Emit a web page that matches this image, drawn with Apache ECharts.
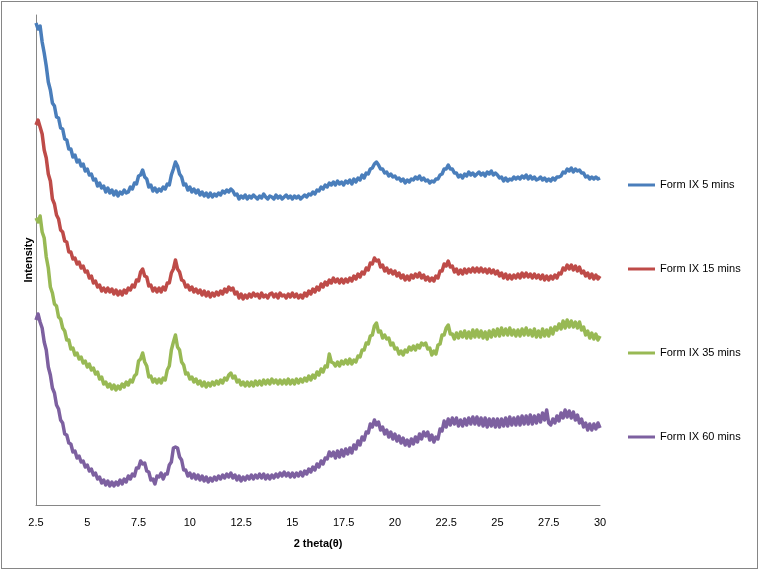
<!DOCTYPE html>
<html>
<head>
<meta charset="utf-8">
<script src="https://cdn.jsdelivr.net/npm/echarts@6/dist/echarts.min.js"></script>
<style>
  html, body { margin: 0; padding: 0; background: #fff; }
  #chart { width: 759px; height: 570px; position: relative; }
  #frame { position: absolute; left: 1px; top: 1px; width: 755px; height: 566px; border: 1px solid #868686; pointer-events: none; }
</style>
</head>
<body>
<div id="chart"></div>
<div id="frame"></div>
<script>
// 2θ sampling grid: 2.5 to 30.0 in steps of 0.1
const thetaStart = 2.5;
const thetaStep = 0.1;
const xTicks = [2.5, 5, 7.5, 10, 12.5, 15, 17.5, 20, 22.5, 25, 27.5, 30];
const seriesNames = ['Form IX 5 mins', 'Form IX 15 mins', 'Form IX 35 mins', 'Form IX 60 mins'];

// Intensity (offset, arbitrary units), one value per 0.1° 2θ
const form5 = [
  482, 476, 479, 463, 452,
  439, 423, 415, 402, 399, 388, 387, 377, 376, 366,
  365, 356, 356, 348, 350, 343, 345, 339, 341, 334,
  336, 330, 331, 325, 326, 319, 322, 317, 319, 313,
  317, 312, 315, 310, 314, 309, 313, 311, 315, 312,
  313, 318, 316, 322, 321, 329, 330, 335, 328, 326,
  318, 320, 314, 317, 313, 316, 314, 318, 316, 321,
  320, 330, 336, 343, 339, 331, 328, 320, 321, 315,
  318, 313, 316, 312, 315, 310, 313, 309, 312, 308,
  312, 308, 311, 309, 312, 310, 314, 312, 315, 313,
  316, 314, 310, 311, 306, 309, 307, 310, 306, 309,
  307, 310, 308, 306, 309, 307, 311, 308, 306, 309,
  308, 306, 310, 307, 309, 306, 308, 310, 307, 309,
  306, 309, 307, 309, 306, 308, 310, 308, 311, 310,
  313, 311, 315, 314, 318, 316, 320, 318, 322, 320,
  323, 320, 324, 321, 323, 320, 324, 322, 325, 321,
  326, 323, 327, 325, 330, 327, 332, 331, 336, 337,
  341, 343, 340, 336, 336, 332, 333, 329, 331, 328,
  329, 326, 327, 324, 326, 322, 325, 323, 326, 325,
  328, 326, 329, 325, 327, 324, 325, 322, 324, 323,
  326, 326, 330, 331, 336, 336, 340, 336, 336, 332,
  332, 328, 330, 327, 331, 329, 333, 330, 332, 329,
  331, 333, 330, 332, 329, 333, 331, 334, 330, 332,
  330, 327, 328, 324, 327, 324, 326, 325, 328, 326,
  328, 326, 329, 327, 330, 326, 329, 326, 328, 325,
  326, 328, 325, 327, 324, 326, 324, 327, 325, 328,
  328, 329, 333, 332, 336, 334, 337, 333, 336, 334,
  335, 332, 332, 328, 329, 326, 328, 326, 328, 326,
  327
];

const form15 = [
  380, 385, 378, 371, 355,
  347, 331, 324, 306, 301, 290, 286, 275, 273, 264,
  263, 253, 253, 246, 247, 241, 243, 237, 239, 233,
  234, 227, 229, 222, 224, 218, 220, 214, 217, 213,
  217, 213, 216, 211, 215, 210, 214, 210, 215, 212,
  217, 215, 220, 218, 225, 224, 233, 236, 229, 228,
  219, 220, 214, 217, 213, 217, 213, 218, 215, 222,
  222, 232, 236, 245, 236, 233, 225, 224, 218, 220,
  215, 218, 213, 216, 212, 215, 210, 214, 209, 213,
  208, 212, 209, 213, 210, 214, 211, 216, 213, 218,
  215, 217, 211, 213, 207, 211, 206, 210, 207, 211,
  208, 212, 209, 211, 207, 212, 208, 210, 207, 211,
  212, 208, 211, 207, 212, 209, 210, 207, 211, 208,
  212, 208, 211, 207, 210, 207, 212, 209, 214, 211,
  216, 213, 218, 215, 221, 218, 223, 220, 225, 222,
  227, 223, 226, 222, 226, 222, 226, 223, 227, 224,
  229, 226, 231, 228, 233, 231, 237, 235, 242, 241,
  247, 244, 245, 238, 240, 234, 237, 232, 235, 231,
  234, 229, 232, 227, 230, 225, 229, 225, 230, 227,
  231, 228, 232, 227, 230, 225, 228, 224, 227, 224,
  229, 227, 234, 234, 241, 239, 244, 238, 239, 233,
  236, 231, 235, 231, 236, 232, 236, 233, 237, 233,
  237, 233, 237, 233, 236, 232, 236, 232, 235, 231,
  234, 229, 232, 227, 231, 226, 230, 226, 230, 227,
  231, 227, 232, 228, 232, 228, 231, 227, 231, 227,
  230, 226, 230, 225, 229, 225, 229, 226, 230, 227,
  232, 231, 237, 235, 240, 236, 240, 235, 239, 234,
  238, 232, 234, 229, 232, 227, 231, 226, 230, 226,
  229
];

const form35 = [
  287, 283, 289, 273, 267,
  248, 237, 218, 212, 201, 199, 188, 186, 177, 174,
  165, 165, 156, 157, 150, 152, 146, 148, 142, 144,
  138, 141, 135, 137, 131, 133, 126, 128, 121, 123,
  118, 121, 116, 120, 115, 119, 116, 121, 118, 123,
  120, 125, 123, 129, 131, 144, 146, 152, 143, 139,
  128, 129, 123, 126, 122, 126, 122, 127, 125, 135,
  139, 155, 163, 170, 158, 155, 143, 140, 131, 132,
  126, 128, 123, 126, 121, 124, 119, 123, 118, 122,
  119, 123, 120, 124, 121, 125, 122, 127, 125, 130,
  132, 127, 129, 123, 125, 120, 123, 119, 123, 119,
  123, 119, 124, 120, 124, 120, 125, 121, 125, 121,
  126, 122, 125, 121, 125, 121, 125, 121, 126, 121,
  125, 121, 126, 122, 126, 123, 127, 124, 129, 125,
  130, 127, 133, 130, 136, 133, 139, 138, 151, 143,
  142, 139, 143, 139, 144, 141, 145, 141, 146, 141,
  145, 143, 149, 148, 155, 155, 162, 161, 169, 170,
  179, 182, 173, 174, 167, 170, 166, 167, 160, 162,
  156, 157, 151, 154, 150, 155, 153, 158, 155, 159,
  155, 160, 157, 162, 160, 162, 156, 157, 150, 154,
  151, 160, 161, 170, 170, 177, 180, 171, 171, 166,
  172, 167, 173, 168, 174, 167, 173, 167, 175, 168,
  175, 168, 174, 167, 173, 166, 174, 168, 175, 169,
  176, 169, 177, 170, 176, 170, 177, 170, 175, 169,
  175, 169, 176, 170, 177, 170, 175, 169, 176, 168,
  174, 168, 176, 169, 175, 169, 177, 171, 178, 175,
  181, 176, 184, 177, 185, 178, 184, 178, 183, 177,
  183, 175, 178, 170, 174, 167, 172, 166, 171, 165,
  169
];

const form60 = [
  185, 191, 183, 177, 163,
  155, 138, 130, 117, 112, 100, 96, 85, 82, 71,
  70, 62, 61, 53, 54, 47, 49, 43, 44, 38,
  40, 34, 36, 30, 32, 26, 28, 22, 25, 20,
  24, 19, 23, 19, 23, 20, 25, 21, 26, 23,
  29, 26, 31, 29, 37, 37, 44, 41, 42, 34,
  33, 25, 26, 21, 29, 28, 32, 26, 31, 31,
  40, 43, 57, 58, 57, 48, 45, 35, 35, 29,
  32, 27, 31, 26, 30, 25, 29, 24, 28, 23,
  27, 24, 28, 25, 29, 26, 30, 27, 31, 28,
  32, 27, 30, 25, 29, 24, 28, 25, 29, 26,
  30, 26, 30, 27, 31, 27, 31, 26, 30, 26,
  30, 27, 31, 28, 32, 29, 33, 29, 32, 28,
  32, 28, 32, 29, 33, 29, 34, 31, 36, 33,
  38, 35, 41, 38, 44, 41, 47, 46, 53, 49,
  53, 47, 54, 48, 55, 49, 56, 51, 57, 52,
  60, 56, 64, 60, 68, 65, 73, 72, 81, 78,
  85, 80, 83, 75, 78, 71, 75, 68, 73, 66,
  71, 64, 69, 62, 67, 60, 65, 59, 66, 61,
  68, 63, 71, 66, 73, 69, 73, 65, 70, 63,
  68, 66, 76, 74, 84, 78, 86, 80, 87, 81,
  87, 79, 85, 79, 86, 80, 87, 81, 88, 81,
  88, 80, 87, 79, 87, 78, 86, 79, 86, 78,
  86, 78, 86, 79, 87, 79, 88, 80, 87, 80,
  88, 80, 89, 81, 89, 81, 90, 81, 89, 82,
  90, 83, 92, 85, 95, 82, 80, 86, 82, 89,
  84, 92, 87, 95, 88, 94, 87, 93, 85, 90,
  82, 86, 78, 82, 75, 81, 75, 81, 76, 82,
  77
];

const colors = ['#4A7EBB', '#BE4B48', '#98B954', '#7D60A0'];
const allData = [form5, form15, form35, form60];

function pairs(arr) {
  return arr.map((v, i) => [Math.round((thetaStart + i * thetaStep) * 10) / 10, v]);
}

const chart = echarts.init(document.getElementById('chart'), null, { renderer: 'canvas' });
const font = "'Liberation Sans', Arial, sans-serif";

chart.setOption({
  animation: false,
  backgroundColor: '#ffffff',
  grid: { left: 36, right: 159, top: 15, bottom: 65, containLabel: false },
  legend: {
    orient: 'vertical',
    left: 623,
    top: 173,
    itemWidth: 27,
    itemHeight: 3,
    itemGap: 70,
    icon: 'rect',
    data: seriesNames,
    textStyle: { fontFamily: font, fontSize: 11, color: '#000', lineHeight: 14 }
  },
  xAxis: {
    type: 'value',
    min: 2.5,
    max: 30,
    interval: 2.5,
    name: '2 theta(θ)',
    nameLocation: 'middle',
    nameGap: 33,
    nameTextStyle: { fontFamily: font, fontSize: 11, fontWeight: 'bold', color: '#000' },
    axisLine: { show: true, lineStyle: { color: '#868686', width: 1 } },
    axisTick: { show: false },
    splitLine: { show: false },
    axisLabel: {
      margin: 12,
      fontFamily: font,
      fontSize: 11,
      color: '#000',
      formatter: function (v) {
        const t = xTicks.find(x => Math.abs(x - v) < 1e-6);
        return t === undefined ? '' : String(t);
      }
    }
  },
  yAxis: {
    type: 'value',
    min: 0,
    max: 490,
    name: 'Intensity',
    nameLocation: 'middle',
    nameGap: 2,
    nameTextStyle: { fontFamily: font, fontSize: 11, fontWeight: 'bold', color: '#000' },
    axisLine: { show: true, lineStyle: { color: '#868686', width: 1 } },
    axisTick: { show: false },
    axisLabel: { show: false },
    splitLine: { show: false }
  },
  series: seriesNames.map((name, k) => ({
    name: name,
    type: 'line',
    data: pairs(allData[k]),
    symbol: 'none',
    showSymbol: false,
    smooth: false,
    color: colors[k],
    lineStyle: { color: colors[k], width: 3.5, join: 'round' },
    itemStyle: { color: colors[k] },
    z: 2 + k
  }))
});
</script>
</body>
</html>
